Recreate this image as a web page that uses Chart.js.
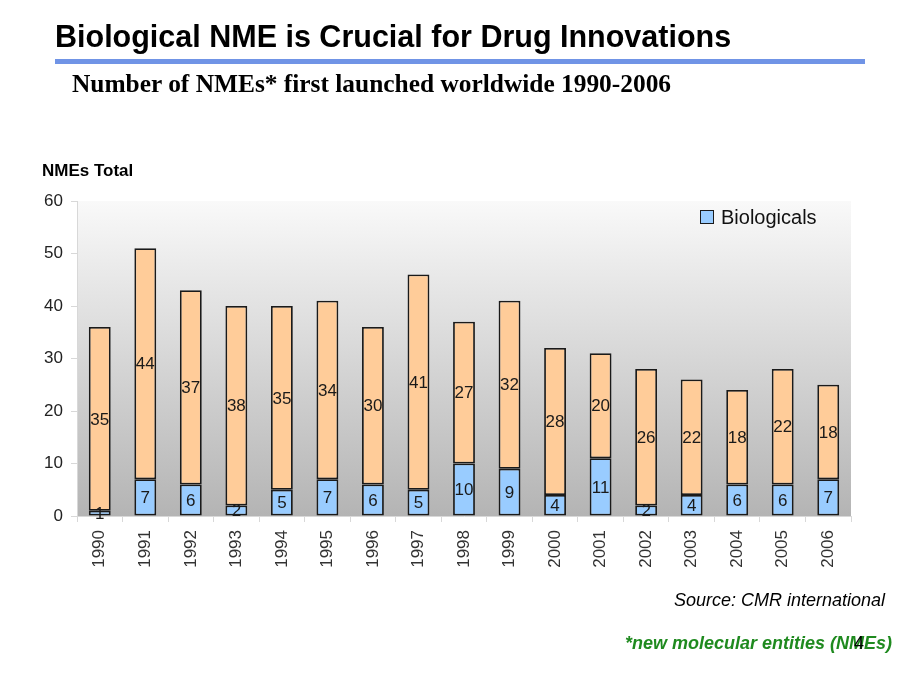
<!DOCTYPE html>
<html>
<head>
<meta charset="utf-8">
<script src="https://cdn.jsdelivr.net/npm/chart.js@4.4.1/dist/chart.umd.min.js"></script>
<style>
  body { margin: 0; background: #fff; font-family: "Liberation Sans", Arial, sans-serif; }
  #wrap { position: relative; width: 920px; height: 690px; overflow: hidden; }
  canvas { position: absolute; left: 0; top: 0; }
  .txt { position: absolute; white-space: nowrap; }
  #title { left: 55px; top: 19px; font-size: 30.5px; font-weight: bold; color: #000; }
  #bar { position: absolute; left: 55px; top: 59px; width: 810px; height: 5px; background: #7094e6; }
  #sub { left: 72px; top: 69px; font-family: "Liberation Serif", "Times New Roman", serif; font-size: 25.4px; font-weight: bold; color: #000; }
  #ylab { left: 42px; top: 161px; font-size: 17px; font-weight: bold; color: #000; }
  #src { right: 35px; top: 590px; font-size: 18px; font-style: italic; color: #000; }
  #note { right: 28px; top: 633px; font-size: 18px; font-style: italic; font-weight: bold; color: #1f8a1f; }
  #page { left: 854px; top: 633px; font-size: 18px; color: #000; }
</style>
</head>
<body>
<div id="wrap">
  <canvas id="nmeChart" width="920" height="690"></canvas>
  <div class="txt" id="title">Biological NME is Crucial for Drug Innovations</div>
  <div id="bar"></div>
  <div class="txt" id="sub">Number of NMEs* first launched worldwide 1990-2006</div>
  <div class="txt" id="ylab">NMEs Total</div>
  <div class="txt" id="src">Source: CMR international</div>
  <div class="txt" id="note">*new molecular entities (NMEs)</div>
  <div class="txt" id="page">4</div>
</div>
<script>
// data
const years = ['1990', '1991', '1992', '1993', '1994', '1995', '1996', '1997', '1998',
  '1999', '2000', '2001', '2002', '2003', '2004', '2005', '2006'];
const biologicals = [1, 7, 6, 2, 5, 7, 6, 5, 10, 9, 4, 11, 2, 4, 6, 6, 7];
const otherNMEs = [35, 44, 37, 38, 35, 34, 30, 41, 27, 32, 28, 20, 26, 22, 18, 22, 18];
const yTicks = [0, 10, 20, 30, 40, 50, 60];

// grey gradient behind the bars
const plotBackground = {
  id: 'plotBackground',
  beforeDraw(chart) {
    const { ctx, chartArea: a } = chart;
    const g = ctx.createLinearGradient(0, a.top, 0, a.bottom);
    g.addColorStop(0, '#f9f9f9');
    g.addColorStop(1, '#b4b4b4');
    ctx.save();
    ctx.fillStyle = g;
    ctx.fillRect(a.left, a.top, a.right - a.left, a.bottom - a.top);
    ctx.restore();
  }
};

// numbers in the middle of each segment
const segmentLabels = {
  id: 'segmentLabels',
  afterDatasetsDraw(chart) {
    const ctx = chart.ctx;
    ctx.save();
    ctx.font = '17px "Liberation Sans", Arial, sans-serif';
    ctx.fillStyle = '#1a1a1a';
    ctx.textAlign = 'center';
    ctx.textBaseline = 'middle';
    chart.data.datasets.forEach((ds, i) => {
      chart.getDatasetMeta(i).data.forEach((bar, j) => {
        ctx.fillText(ds.data[j], bar.x, (bar.y + bar.base) / 2 + 1);
      });
    });
    ctx.restore();
  }
};

// single legend entry in the top right of the plot
const cornerLegend = {
  id: 'cornerLegend',
  afterDraw(chart) {
    const { ctx, chartArea: a } = chart;
    const ds = chart.data.datasets[0];
    const x = a.right - 151, y = a.top + 15;
    ctx.save();
    ctx.fillStyle = ds.backgroundColor;
    ctx.strokeStyle = '#1a1a1a';
    ctx.lineWidth = 1;
    ctx.fillRect(x, y - 6, 14, 14);
    ctx.strokeRect(x + 0.5, y - 5.5, 13, 13);
    ctx.font = '20px "Liberation Sans", Arial, sans-serif';
    ctx.fillStyle = '#111';
    ctx.textBaseline = 'middle';
    ctx.fillText(ds.label, x + 21, y + 2);
    ctx.restore();
  }
};

new Chart(document.getElementById('nmeChart'), {
  type: 'bar',
  data: {
    labels: years,
    datasets: [
      {
        label: 'Biologicals',
        data: biologicals,
        backgroundColor: '#99ccff',
        borderColor: '#1a1a1a',
        borderWidth: 1.8,
        borderSkipped: false
      },
      {
        label: 'Other NMEs',
        data: otherNMEs,
        backgroundColor: '#ffcc99',
        borderColor: '#1a1a1a',
        borderWidth: 1.8,
        borderSkipped: false
      }
    ]
  },
  options: {
    responsive: false,
    animation: false,
    layout: { padding: { left: 40, right: 69, top: 201, bottom: 114 } },
    datasets: { bar: { categoryPercentage: 1, barPercentage: 0.48 } },
    plugins: { legend: { display: false }, tooltip: { enabled: false } },
    scales: {
      x: {
        stacked: true,
        afterFit: s => { s.height = 60; },
        grid: { drawOnChartArea: false, color: '#d8d8d8', tickLength: 6 },
        border: { color: '#d8d8d8' },
        ticks: {
          minRotation: 90, maxRotation: 90, padding: 8,
          color: '#333', font: { family: '"Liberation Sans", Arial, sans-serif', size: 17 }
        }
      },
      y: {
        stacked: true,
        min: 0, max: 60,
        afterFit: s => { s.width = 37; },
        afterBuildTicks: s => { s.ticks = yTicks.map(v => ({ value: v })); },
        grid: { drawOnChartArea: false, color: '#d8d8d8', tickLength: 6 },
        border: { color: '#d8d8d8' },
        ticks: {
          padding: 8,
          color: '#222', font: { family: '"Liberation Sans", Arial, sans-serif', size: 17 }
        }
      }
    }
  },
  plugins: [plotBackground, segmentLabels, cornerLegend]
});
</script>
</body>
</html>
